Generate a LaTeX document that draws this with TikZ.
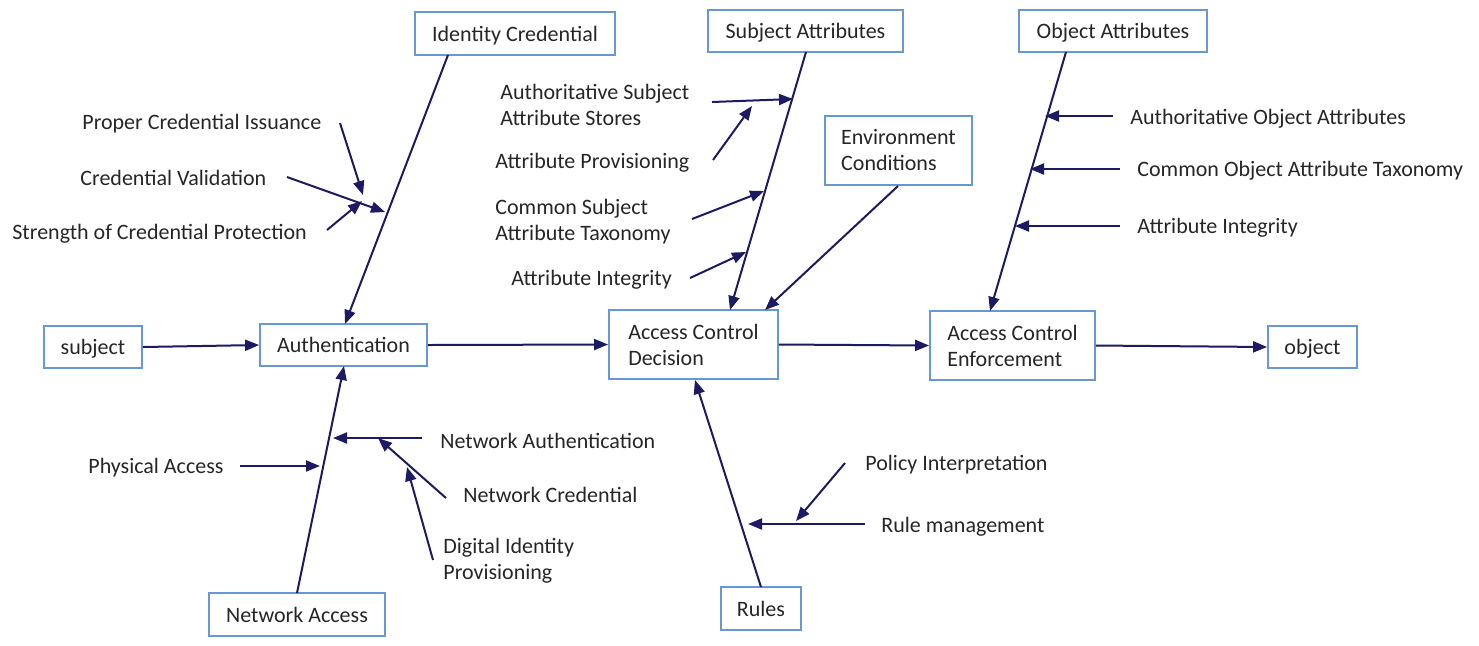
\documentclass[tikz,border=0pt]{standalone}
\usepackage{fontspec}
\setmainfont{Carlito}
\usetikzlibrary{arrows.meta}
\definecolor{boxblue}{RGB}{104,152,212}
\definecolor{navy}{RGB}{28,26,96}
\begin{document}
\begin{tikzpicture}[x=0.5pt,y=-0.5pt,
  every node/.style={font=\fontsize{11}{13}\selectfont, text=black!85},
  box/.style={draw=boxblue,line width=0.9pt,inner sep=0pt,align=center,fill=white},
  sbox/.style={box,text depth=0pt},
  lbl/.style={inner sep=0pt,align=left,anchor=west,yshift=-0.8pt},
  arr/.style={draw=navy,line width=1pt,-{Triangle[length=7pt,width=5.5pt]}}]
\useasboundingbox (0,0) rectangle (1479,645);

% boxes
\node[sbox,minimum width=100pt,minimum height=21.5pt] (idc) at (515,33.5) {Identity Credential};
\node[sbox,minimum width=97.5pt,minimum height=21pt] (sa) at (805.5,31) {Subject Attributes};
\node[sbox,minimum width=94pt,minimum height=21pt] (oa) at (1113,31) {Object Attributes};
\node[box,minimum width=73.5pt,minimum height=34.5pt,align=left] (ec) at (898.5,150.5) {Environment\\Conditions};
\node[sbox,minimum width=49pt,minimum height=21pt] (subj) at (93,347) {subject};
\node[sbox,minimum width=83.5pt,minimum height=21pt] (auth) at (343.5,345) {Authentication};
\node[box,minimum width=84.5pt,minimum height=34.5pt,align=left] (acd) at (693.5,344.5) {Access Control\\Decision};
\node[box,minimum width=82.5pt,minimum height=34.5pt,align=left] (ace) at (1012.5,345.5) {Access Control\\Enforcement};
\node[sbox,minimum width=44.5pt,minimum height=21pt] (obj) at (1312.5,347) {object};
\node[sbox,minimum width=88pt,minimum height=21.5pt] (na) at (297,614.5) {Network Access};
\node[sbox,minimum width=40pt,minimum height=21.5pt] (rules) at (761,608.5) {Rules};

% labels
\node[lbl] (pci) at (82,122) {Proper Credential Issuance};
\node[lbl] (cv) at (80,176) {Credential Validation};
\node[lbl] (scp) at (12,232) {Strength of Credential Protection};
\node[lbl] (asas) at (500,103) {Authoritative Subject\\Attribute Stores};
\node[lbl] (ap) at (495,161) {Attribute Provisioning};
\node[lbl] (csat) at (495,220) {Common Subject\\Attribute Taxonomy};
\node[lbl] (ais) at (511,278) {Attribute Integrity};
\node[lbl] (aoa) at (1130,117) {Authoritative Object Attributes};
\node[lbl] (coat) at (1137,169) {Common Object Attribute Taxonomy};
\node[lbl] (aio) at (1137,226) {Attribute Integrity};
\node[lbl] (pa) at (88,466) {Physical Access};
\node[lbl] (nau) at (440,439) {Network Authentication};
\node[lbl] (nc) at (463,493) {Network Credential};
\node[lbl] (dip) at (443,559) {Digital Identity\\Provisioning};
\node[lbl] (pi) at (865,463) {Policy Interpretation};
\node[lbl] (rm) at (881,525) {Rule management};

% main flow
\draw[arr] (subj.east) -- (auth.west);
\draw[arr] (auth.east) -- (acd.west);
\draw[arr] (acd.east) -- (ace.west);
\draw[arr] (ace.east) -- (obj.west);

% spines
\coordinate (idcb) at (448,55);  \coordinate (autht) at (345,324);
\coordinate (nat) at (297,593);  \coordinate (authb) at (344,366);
\coordinate (sab) at (806,52);   \coordinate (acdt1) at (730,310);
\coordinate (ecb) at (898,186);  \coordinate (acdt2) at (765,310);
\coordinate (oab) at (1066,52);  \coordinate (acet) at (990,311);
\coordinate (rulest) at (761,587); \coordinate (acdb) at (695,380);
\draw[arr] (idcb) -- (autht);
\draw[arr] (nat) -- (authb);
\draw[arr] (sab) -- (acdt1);
\draw[arr] (ecb) -- (acdt2);
\draw[arr] (oab) -- (acet);
\draw[arr] (rulest) -- (acdb);

% identity credential ribs
\coordinate (s1) at (340,123); \coordinate (e1) at (363,195);
\coordinate (s2) at (287,177); \coordinate (e2) at (385,212);
\coordinate (s3) at (327,230); \coordinate (e3) at (362,201);
\draw[arr] (s1) -- (e1);
\draw[arr] (s2) -- (e2);
\draw[arr] (s3) -- (e3);

% subject attribute ribs
\coordinate (s4) at (712,102); \coordinate (e4) at (793,99);
\coordinate (s5) at (713,160); \coordinate (e5) at (752,106);
\coordinate (s6) at (692,219); \coordinate (e6) at (764,191);
\coordinate (s7) at (690,278); \coordinate (e7) at (746,252);
\draw[arr] (s4) -- (e4);
\draw[arr] (s5) -- (e5);
\draw[arr] (s6) -- (e6);
\draw[arr] (s7) -- (e7);

% object attribute ribs
\coordinate (s8) at (1113,116); \coordinate (e8) at (1045,116);
\coordinate (s9) at (1120,169); \coordinate (e9) at (1030,169);
\coordinate (s10) at (1120,226); \coordinate (e10) at (1015,226);
\draw[arr] (s8) -- (e8);
\draw[arr] (s9) -- (e9);
\draw[arr] (s10) -- (e10);

% network access ribs
\coordinate (s11) at (240,466); \coordinate (e11) at (320,466);
\coordinate (s12) at (422,438); \coordinate (e12) at (333,438);
\coordinate (s13) at (446,498); \coordinate (e13) at (378,438);
\coordinate (s14) at (433,560); \coordinate (e14) at (407,467);
\draw[arr] (s11) -- (e11);
\draw[arr] (s12) -- (e12);
\draw[arr] (s13) -- (e13);
\draw[arr] (s14) -- (e14);

% rules ribs
\coordinate (s15) at (845,463); \coordinate (e15) at (796,521);
\coordinate (s16) at (865,524); \coordinate (e16) at (748,524);
\draw[arr] (s15) -- (e15);
\draw[arr] (s16) -- (e16);
\end{tikzpicture}
\end{document}
